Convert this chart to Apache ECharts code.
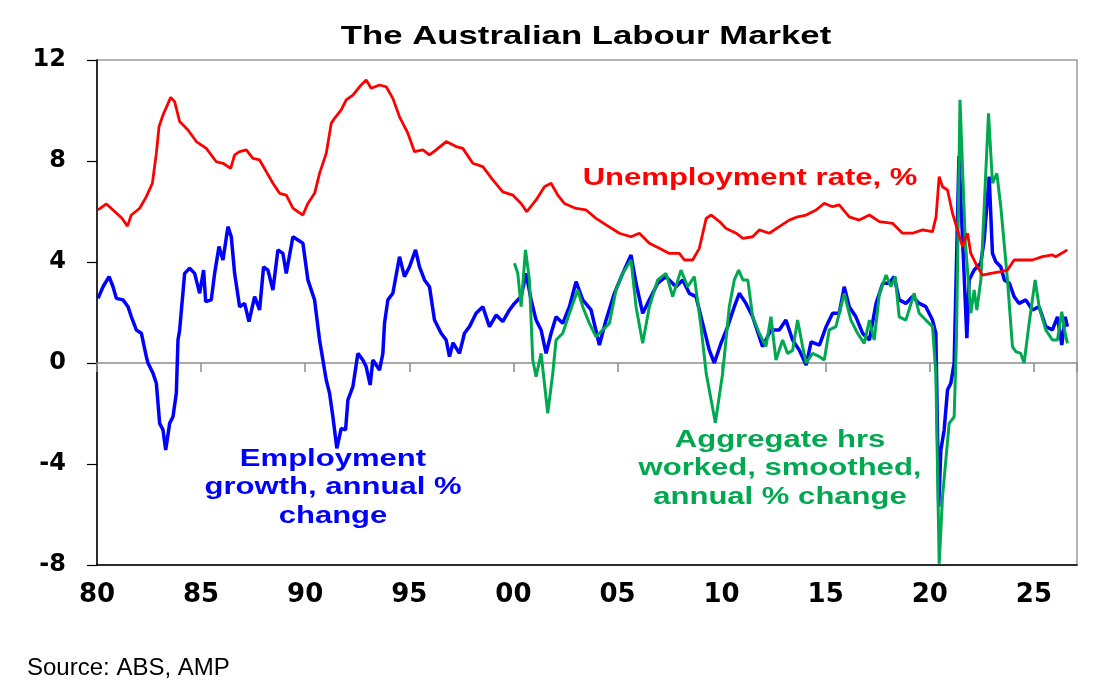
<!DOCTYPE html>
<html>
<head>
<meta charset="utf-8">
<title>The Australian Labour Market</title>
<script src="https://cdn.jsdelivr.net/npm/echarts@6/dist/echarts.min.js"></script>
<style>
  html, body { margin: 0; padding: 0; background: #fff; }
  #main { width: 1109px; height: 697px; }
</style>
</head>
<body>
<div id="main"></div>
<script>
// tick labels on the year axis (two-digit years, every 5 years from 1980)
var xTickLabels = ['80', '85', '90', '95', '00', '05', '10', '15', '20', '25'];

// unemployment rate, % : [year, value]
var unemployment = [
  [1980.05, 6.06], [1980.45, 6.3], [1980.85, 6.0], [1981.2, 5.73], [1981.46, 5.42],
  [1981.65, 5.86], [1982.05, 6.13], [1982.37, 6.59], [1982.66, 7.12], [1982.85, 8.3],
  [1982.98, 9.36], [1983.17, 9.82], [1983.54, 10.52], [1983.73, 10.35], [1983.97, 9.56],
  [1984.37, 9.23], [1984.77, 8.77], [1985.25, 8.5], [1985.73, 7.97], [1986.05, 7.91],
  [1986.42, 7.71], [1986.61, 8.24], [1986.85, 8.37], [1987.17, 8.44], [1987.49, 8.1],
  [1987.81, 8.04], [1988.13, 7.58], [1988.45, 7.12], [1988.77, 6.72], [1989.09, 6.65],
  [1989.41, 6.13], [1989.65, 5.99], [1989.89, 5.86], [1990.13, 6.32], [1990.45, 6.72],
  [1990.69, 7.51], [1991.01, 8.3], [1991.25, 9.49], [1991.41, 9.69], [1991.73, 10.02],
  [1991.97, 10.42], [1992.29, 10.61], [1992.61, 10.94], [1992.93, 11.21], [1993.17, 10.88],
  [1993.57, 11.01], [1993.89, 10.94], [1994.21, 10.48], [1994.53, 9.75], [1994.93, 9.1],
  [1995.25, 8.37], [1995.65, 8.44], [1995.97, 8.24], [1996.29, 8.44], [1996.77, 8.77],
  [1997.25, 8.57], [1997.57, 8.5], [1998.05, 7.91], [1998.53, 7.78], [1999.01, 7.25],
  [1999.49, 6.78], [1999.97, 6.65], [2000.37, 6.32], [2000.64, 5.99], [2001.09, 6.46],
  [2001.49, 6.98], [2001.81, 7.12], [2002.13, 6.65], [2002.45, 6.32], [2003.01, 6.12],
  [2003.49, 6.06], [2003.97, 5.73], [2004.45, 5.47], [2005.09, 5.14], [2005.65, 5.0],
  [2006.05, 5.14], [2006.53, 4.74], [2007.01, 4.54], [2007.49, 4.34], [2007.97, 4.34],
  [2008.21, 4.08], [2008.61, 4.08], [2008.93, 4.54], [2009.26, 5.73], [2009.5, 5.86],
  [2009.9, 5.6], [2010.22, 5.33], [2010.7, 5.14], [2011.02, 4.94], [2011.49, 5.0],
  [2011.81, 5.27], [2012.29, 5.14], [2012.77, 5.4], [2013.25, 5.66], [2013.65, 5.79],
  [2014.06, 5.86], [2014.54, 6.06], [2014.93, 6.32], [2015.33, 6.19], [2015.65, 6.26],
  [2016.13, 5.79], [2016.61, 5.66], [2017.1, 5.86], [2017.58, 5.6], [2018.21, 5.53],
  [2018.69, 5.14], [2019.17, 5.14], [2019.65, 5.27], [2020.13, 5.2], [2020.3, 5.79],
  [2020.45, 7.38], [2020.61, 6.98], [2020.85, 6.85], [2021.09, 5.93], [2021.33, 5.27],
  [2021.57, 4.61], [2021.81, 5.14], [2021.97, 4.34], [2022.29, 3.81], [2022.53, 3.48],
  [2022.93, 3.55], [2023.41, 3.62], [2023.73, 3.68], [2024.05, 4.08], [2024.45, 4.08],
  [2024.93, 4.08], [2025.41, 4.21], [2025.89, 4.28], [2026.05, 4.21], [2026.61, 4.48]
];

// employment growth, annual % change : [year, value]
var employment = [
  [1980.05, 2.56], [1980.29, 3.02], [1980.58, 3.42], [1980.77, 3.02], [1980.93, 2.56],
  [1981.25, 2.5], [1981.49, 2.23], [1981.65, 1.83], [1981.89, 1.31], [1982.13, 1.18],
  [1982.37, 0.25], [1982.45, 0], [1982.69, -0.41], [1982.85, -0.8], [1983.01, -2.39],
  [1983.17, -2.65], [1983.3, -3.45], [1983.49, -2.39], [1983.65, -2.13], [1983.81, -1.2],
  [1983.89, 0.91], [1983.97, 1.31], [1984.21, 3.55], [1984.45, 3.75], [1984.69, 3.55],
  [1984.93, 2.76], [1985.12, 3.68], [1985.22, 2.43], [1985.49, 2.5], [1985.65, 3.55],
  [1985.86, 4.61], [1986.05, 4.08], [1986.29, 5.4], [1986.45, 5.0], [1986.61, 3.55],
  [1986.85, 2.23], [1987.09, 2.36], [1987.3, 1.64], [1987.57, 2.63], [1987.81, 2.1],
  [1988.0, 3.81], [1988.21, 3.68], [1988.45, 2.89], [1988.69, 4.48], [1988.93, 4.34],
  [1989.09, 3.55], [1989.41, 5.0], [1989.65, 4.87], [1989.89, 4.74], [1990.13, 3.29],
  [1990.45, 2.5], [1990.69, 0.91], [1990.93, -0.28], [1991.01, -0.67], [1991.17, -1.2],
  [1991.33, -2.13], [1991.52, -3.38], [1991.73, -2.59], [1991.94, -2.65], [1992.05, -1.47],
  [1992.29, -0.94], [1992.53, 0.38], [1992.77, 0.12], [1992.93, -0.15], [1993.12, -0.87],
  [1993.25, 0.12], [1993.57, -0.28], [1993.73, 0.38], [1993.81, 1.57], [1993.97, 2.5],
  [1994.21, 2.76], [1994.53, 4.21], [1994.77, 3.42], [1995.01, 3.81], [1995.3, 4.48],
  [1995.49, 3.81], [1995.73, 3.29], [1995.97, 3.02], [1996.21, 1.7], [1996.53, 1.18],
  [1996.77, 0.91], [1996.93, 0.25], [1997.1, 0.8], [1997.41, 0.38], [1997.65, 1.18],
  [1997.89, 1.44], [1998.21, 1.97], [1998.53, 2.23], [1998.85, 1.44], [1999.17, 1.9],
  [1999.49, 1.64], [1999.81, 2.1], [2000.05, 2.36], [2000.37, 2.63], [2000.61, 3.55],
  [2000.85, 2.5], [2001.09, 1.7], [2001.33, 1.31], [2001.57, 0.38], [2001.81, 1.18],
  [2002.05, 1.83], [2002.37, 1.57], [2002.69, 2.23], [2003.01, 3.22], [2003.33, 2.5],
  [2003.73, 2.1], [2004.13, 0.71], [2004.45, 1.7], [2004.85, 2.76], [2005.25, 3.55],
  [2005.65, 4.28], [2005.89, 3.16], [2006.21, 1.97], [2006.53, 2.5], [2006.93, 3.16],
  [2007.33, 3.42], [2007.81, 3.02], [2008.13, 3.29], [2008.45, 2.76], [2008.77, 2.63],
  [2009.09, 1.57], [2009.41, 0.51], [2009.65, 0], [2009.97, 0.78], [2010.29, 1.44],
  [2010.61, 2.23], [2010.85, 2.76], [2011.17, 2.36], [2011.49, 1.83], [2011.97, 0.65],
  [2012.37, 1.31], [2012.77, 1.31], [2013.09, 1.7], [2013.41, 0.91], [2013.73, 0.51],
  [2014.06, -0.08], [2014.3, 0.84], [2014.7, 0.71], [2015.02, 1.44], [2015.33, 1.97],
  [2015.65, 1.97], [2015.89, 3.02], [2016.13, 2.23], [2016.45, 1.83], [2016.77, 1.18],
  [2017.1, 0.91], [2017.42, 2.36], [2017.74, 3.16], [2018.05, 3.16], [2018.29, 3.42],
  [2018.53, 2.5], [2018.85, 2.36], [2019.17, 2.63], [2019.49, 2.36], [2019.81, 2.23],
  [2020.13, 1.7], [2020.29, 1.18], [2020.43, -5.69], [2020.53, -3.45], [2020.69, -2.65],
  [2020.85, -1.07], [2021.01, -0.8], [2021.17, 0], [2021.4, 8.2], [2021.78, 0.98],
  [2021.89, 3.29], [2022.13, 3.68], [2022.45, 3.95], [2022.61, 4.87], [2022.85, 7.38],
  [2023.01, 4.34], [2023.17, 4.01], [2023.41, 3.81], [2023.58, 3.29], [2023.82, 3.16],
  [2024.05, 2.63], [2024.29, 2.36], [2024.61, 2.5], [2024.93, 2.1], [2025.25, 2.23],
  [2025.57, 1.44], [2025.89, 1.31], [2026.13, 1.83], [2026.34, 0.71], [2026.5, 1.83],
  [2026.61, 1.44]
];

// aggregate hours worked, smoothed, annual % change : [year, value]
var hoursWorked = [
  [2000.05, 3.95], [2000.21, 3.55], [2000.37, 2.23], [2000.58, 4.48], [2000.77, 3.29],
  [2000.93, 0.12], [2001.09, -0.54], [2001.33, 0.38], [2001.65, -1.99], [2001.89, -0.41],
  [2002.05, 0.91], [2002.37, 1.18], [2002.69, 1.97], [2003.09, 2.89], [2003.33, 2.23],
  [2003.65, 1.57], [2003.97, 1.04], [2004.29, 1.31], [2004.61, 1.57], [2004.93, 2.89],
  [2005.25, 3.55], [2005.65, 4.08], [2005.89, 2.23], [2006.21, 0.78], [2006.53, 2.23],
  [2006.93, 3.29], [2007.33, 3.55], [2007.65, 2.63], [2008.05, 3.68], [2008.37, 3.02],
  [2008.69, 3.42], [2009.01, 1.44], [2009.26, -0.41], [2009.7, -2.37], [2010.05, -0.41],
  [2010.37, 2.23], [2010.61, 3.29], [2010.82, 3.68], [2011.02, 3.29], [2011.26, 3.29],
  [2011.49, 1.83], [2011.81, 1.18], [2012.13, 0.65], [2012.37, 1.83], [2012.61, 0.12],
  [2012.93, 0.91], [2013.17, 0.38], [2013.41, 0.5], [2013.65, 1.7], [2013.89, 0.65],
  [2014.06, 0], [2014.37, 0.38], [2014.7, 0.25], [2014.93, 0.12], [2015.17, 1.31],
  [2015.49, 1.44], [2015.89, 2.76], [2016.21, 1.7], [2016.53, 1.18], [2016.85, 0.78],
  [2017.1, 1.7], [2017.33, 0.91], [2017.58, 2.76], [2017.9, 3.48], [2018.13, 3.02],
  [2018.34, 3.42], [2018.53, 1.83], [2018.85, 1.7], [2019.25, 2.76], [2019.49, 1.97],
  [2019.81, 1.7], [2020.13, 1.44], [2020.29, -0.41], [2020.45, -7.95], [2020.61, -5.3],
  [2020.93, -2.39], [2021.17, -2.13], [2021.28, 0.91], [2021.45, 10.42], [2021.7, 4.87],
  [2021.97, 1.97], [2022.13, 2.89], [2022.26, 2.1], [2022.45, 3.29], [2022.82, 9.89],
  [2023.01, 7.12], [2023.22, 7.51], [2023.41, 6.19], [2023.73, 3.29], [2023.97, 0.65],
  [2024.13, 0.45], [2024.37, 0.38], [2024.53, 0], [2024.77, 1.57], [2025.06, 3.29],
  [2025.25, 2.23], [2025.57, 1.31], [2025.89, 0.91], [2026.13, 0.91], [2026.34, 2.03],
  [2026.5, 1.18], [2026.61, 0.78]
];

function yearLabel(v) {
  var i = Math.round((v - 1980) / 5);
  if (Math.abs(v - (1980 + 5 * i)) > 1e-6) return '';
  return xTickLabels[i] || '';
}

function drawChart() {
  var chartDom = document.getElementById('main');
  var myChart = echarts.init(chartDom);
  var option;

  var xMin = 1980, xMax = 2027.07;
  var annotFont = 'Liberation Sans, Arial, sans-serif';

  option = {
    animation: false,
    backgroundColor: '#ffffff',
    grid: {
      left: 97, right: 32, top: 60, bottom: 132,
      show: true, borderColor: '#9a9a9a', borderWidth: 1.5
    },
    xAxis: [
      {
        type: 'value', min: xMin, max: xMax, interval: 5,
        position: 'bottom',
        axisLine: { onZero: false, lineStyle: { color: '#000', width: 1.5 } },
        axisTick: { show: false },
        splitLine: { show: false },
        axisLabel: {
          margin: 17, color: '#000', fontSize: 26, fontWeight: 'bold',
          fontFamily: 'DejaVu Sans', formatter: yearLabel
        }
      },
      {
        // the zero line carries the year ticks
        type: 'value', min: xMin, max: xMax, interval: 5,
        position: 'top',
        axisLine: { onZero: true, onZeroAxisIndex: 0, lineStyle: { color: '#8c8c8c', width: 1.5 } },
        axisTick: { show: true, inside: true, length: 9, lineStyle: { color: '#8c8c8c', width: 1.5 } },
        splitLine: { show: false },
        axisLabel: { show: false }
      }
    ],
    yAxis: {
      type: 'value', min: -8, max: 12, interval: 4,
      axisLine: { show: true, onZero: false, lineStyle: { color: '#000', width: 1.5 } },
      axisTick: { show: true, length: 10, lineStyle: { color: '#000', width: 1.2 } },
      splitLine: { show: false },
      axisLabel: {
        margin: 31, color: '#000', fontSize: 24, fontWeight: 'bold',
        fontFamily: 'DejaVu Sans'
      }
    },
    series: [
      {
        name: 'Employment growth', type: 'line', data: employment,
        showSymbol: false, symbol: 'none',
        lineStyle: { color: '#0000ff', width: 3.5 }, z: 2
      },
      {
        name: 'Aggregate hrs worked', type: 'line', data: hoursWorked,
        showSymbol: false, symbol: 'none',
        lineStyle: { color: '#00a84f', width: 3 }, z: 3
      },
      {
        name: 'Unemployment rate', type: 'line', data: unemployment,
        showSymbol: false, symbol: 'none',
        lineStyle: { color: '#ff0000', width: 2.8 }, z: 4
      }
    ],
    graphic: {
      elements: [
        {
          type: 'text', x: 586, y: 37, scaleX: 1.39,
          style: {
            text: 'The Australian Labour Market',
            font: 'bold 25px ' + annotFont, fill: '#000',
            textAlign: 'center', textVerticalAlign: 'middle'
          }
        },
        {
          type: 'text', x: 750, y: 179, scaleX: 1.35,
          style: {
            text: 'Unemployment rate, %',
            font: 'bold 23px ' + annotFont, fill: '#ff0000',
            textAlign: 'center', textVerticalAlign: 'middle'
          }
        },
        {
          type: 'text', x: 333, y: 488, scaleX: 1.35,
          style: {
            text: 'Employment\ngrowth, annual %\nchange',
            font: 'bold 23px ' + annotFont, fill: '#0000ff', lineHeight: 28.3,
            textAlign: 'center', textVerticalAlign: 'middle'
          }
        },
        {
          type: 'text', x: 780, y: 469, scaleX: 1.35,
          style: {
            text: 'Aggregate hrs\nworked, smoothed,\nannual % change',
            font: 'bold 23px ' + annotFont, fill: '#00a84f', lineHeight: 28.3,
            textAlign: 'center', textVerticalAlign: 'middle'
          }
        },
        {
          type: 'text', x: 27, y: 668,
          style: {
            text: 'Source: ABS, AMP',
            font: '24px ' + annotFont, fill: '#000',
            textAlign: 'left', textVerticalAlign: 'middle'
          }
        }
      ]
    }
  };

  option && myChart.setOption(option);
}

document.addEventListener('DOMContentLoaded', function() {
  drawChart();
});
</script>
</body>
</html>
